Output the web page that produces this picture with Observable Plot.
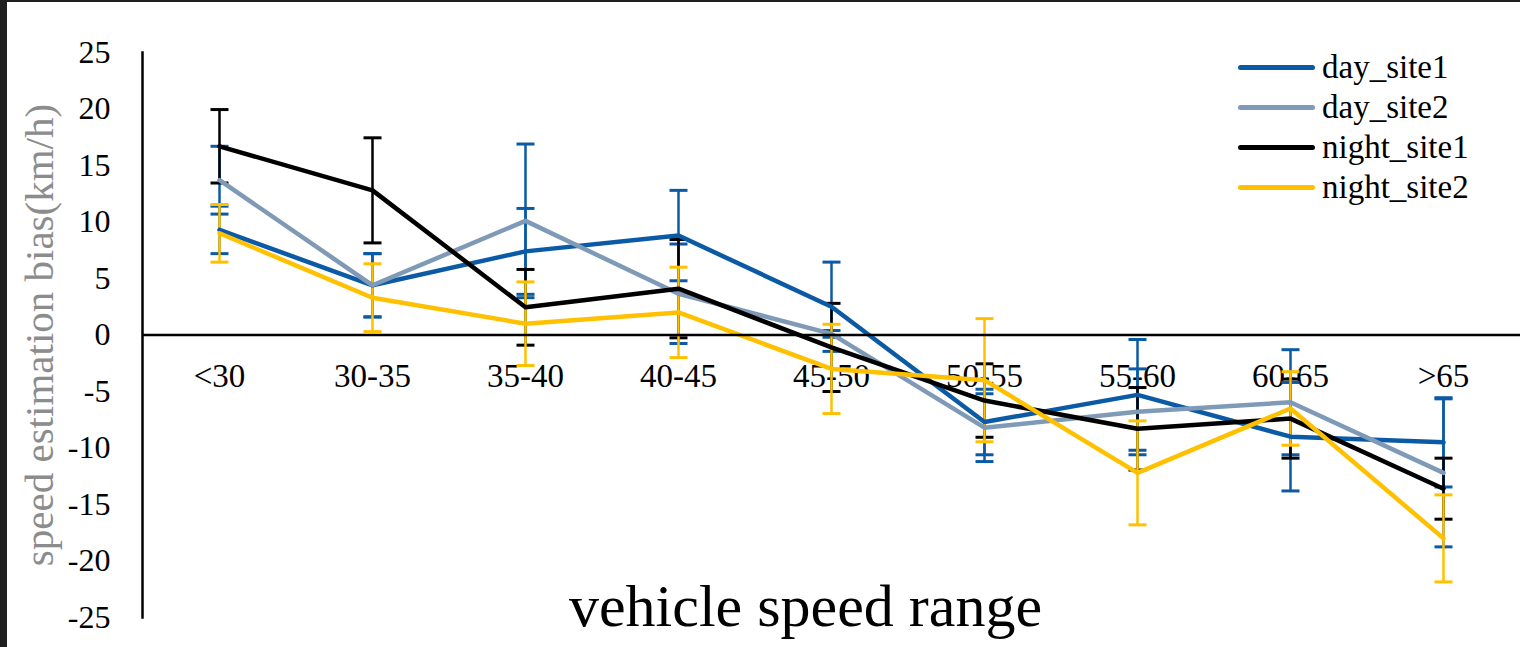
<!DOCTYPE html>
<html>
<head>
<meta charset="utf-8">
<script src="https://cdn.jsdelivr.net/npm/d3@7"></script>
<script src="https://cdn.jsdelivr.net/npm/@observablehq/plot@0.6"></script>
<style>
  html, body { margin: 0; padding: 0; background: #1f1f1f; }
  #wrap { position: absolute; left: 7px; top: 2px; width: 1513px; height: 645px; background: #fff; overflow: hidden; }
  #legend { position: absolute; left: 1231px; top: 45px; font-family: "Liberation Serif", "Times New Roman", serif; font-size: 33px; color: #000; }
  .row { display: flex; align-items: center; height: 40px; }
  .sw { width: 77px; height: 5px; border-radius: 2.5px; margin-right: 7px; }
</style>
</head>
<body>
<div id="wrap"><div id="chart"></div><div id="legend"></div></div>
<script>
const categories = ["<30", "30-35", "35-40", "40-45", "45-50", "50-55", "55-60", "60-65", ">65"];
const yTicks = [-25, -20, -15, -10, -5, 0, 5, 10, 15, 20, 25];
const seriesNames = ["day_site1", "day_site2", "night_site1", "night_site2"];

const daySite1    = [9.3, 4.4, 7.4, 8.8, 2.5, -7.7, -5.3, -9.0, -9.5];
const daySite1Err = [2.1, 2.8, 3.8, 4.0, 3.95, 2.9, 4.9, 4.8, 3.95];
const daySite2    = [13.7, 4.4, 10.1, 3.65, 0.1, -8.2, -6.8, -5.95, -12.2];
const daySite2Err = [3.0, 2.8, 6.8, 4.4, 0.3, 3.0, 3.8, 4.65, 6.55];
const nightSite1    = [16.7, 12.8, 2.45, 4.1, -1.1, -5.8, -8.3, -7.4, -13.6];
const nightSite1Err = [3.25, 4.65, 3.35, 4.35, 3.9, 3.25, 3.65, 3.5, 2.7];
const nightSite2    = [9.0, 3.3, 1.0, 2.0, -3.0, -4.0, -12.2, -6.5, -18.0];
const nightSite2Err = [2.55, 3.0, 3.7, 4.0, 3.95, 5.45, 4.6, 3.25, 3.85];

const lineColors = ["#0B5AA5", "#7F9AB6", "#000000", "#FFC000"];
const errColors  = ["#0B5AA5", "#0B5AA5", "#000000", "#FFC000"];

const values = [daySite1, daySite2, nightSite1, nightSite2];
const errors = [daySite1Err, daySite2Err, nightSite1Err, nightSite2Err];

const series = seriesNames.map((name, k) => ({
  name,
  color: lineColors[k],
  errColor: errColors[k],
  rows: categories.map((cat, i) => ({
    series: name, cat, v: values[k][i],
    lo: values[k][i] - errors[k][i], hi: values[k][i] + errors[k][i]
  }))
}));

const cap = { draw(ctx) { ctx.moveTo(-9, 0); ctx.lineTo(9, 0); } };

const errMarks = series.flatMap(s => [
  Plot.ruleX(s.rows, { x: "cat", y1: "lo", y2: "hi", stroke: s.errColor, strokeWidth: 2.5 }),
  Plot.dot(s.rows, { x: "cat", y: "lo", symbol: cap, r: 9, stroke: s.errColor, strokeWidth: 3, fill: "none" }),
  Plot.dot(s.rows, { x: "cat", y: "hi", symbol: cap, r: 9, stroke: s.errColor, strokeWidth: 3, fill: "none" })
]);
const lineMarks = series.map(s =>
  Plot.line(s.rows, { x: "cat", y: "v", stroke: s.color, strokeWidth: 4.5, strokeLinejoin: "miter" })
);

const chart = Plot.plot({
  width: 1513,
  height: 645,
  marginLeft: 135,
  marginRight: 0,
  marginTop: 50,
  marginBottom: 30,
  style: { fontFamily: '"Liberation Serif", "Times New Roman", serif', background: "#fff", color: "#000", overflow: "visible" },
  x: { type: "point", domain: categories, padding: 0.5, axis: null },
  y: { domain: [-25, 25], axis: null },
  marks: [
    Plot.axisY(yTicks, { tickSize: 0, tickPadding: 32, fontSize: 32, tickFormat: d => String(d), label: null }),
    Plot.text(["speed estimation bias(km/h)"], { frameAnchor: "left", textAnchor: "middle", lineAnchor: "middle", rotate: -90, dx: -103, dy: 0, fontSize: 41, fill: "#8c8c8c" }),
    Plot.text(["vehicle speed range"], { frameAnchor: "bottom", dx: -26, dy: -11, lineAnchor: "middle", fontSize: 60, fill: "#000" }),
    Plot.text(categories, { x: d => d, y: () => 0, dy: 41, fontSize: 33, fill: "#000" }),
    ...errMarks,
    ...lineMarks,
    Plot.ruleY([0], { stroke: "#000", strokeWidth: 2.5 }),
    Plot.frame({ anchor: "left", stroke: "#000", strokeWidth: 2.5 })
  ]
});
document.getElementById("chart").appendChild(chart);

const legend = document.getElementById("legend");
series.forEach(s => {
  const row = document.createElement("div");
  row.className = "row";
  const sw = document.createElement("div");
  sw.className = "sw";
  sw.style.background = s.color;
  const label = document.createElement("span");
  label.textContent = s.name;
  row.appendChild(sw);
  row.appendChild(label);
  legend.appendChild(row);
});
</script>
</body>
</html>
